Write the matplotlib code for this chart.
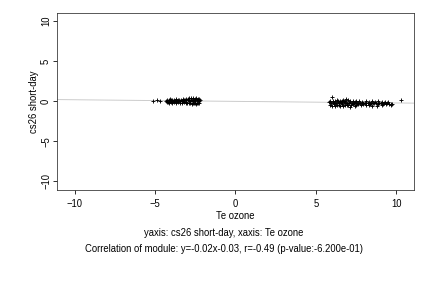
import matplotlib
matplotlib.use("Agg")
import matplotlib.pyplot as plt
import numpy as np

plt.rcParams['font.family'] = ['Liberation Sans', 'DejaVu Sans']

# Cluster 1 (negative Te ozone)
c1_x = [-5.10, -4.85, -4.70, -4.35, -4.28, -4.20, -4.12, -4.05, -3.98, -3.90, -3.83, -3.76, -3.70, -3.62,
        -3.55, -3.48, -3.40, -3.33, -3.26, -3.19, -3.12, -3.05, -2.98, -2.91, -2.84, -2.77, -2.70, -2.63,
        -2.56, -2.49, -2.42, -2.35, -2.28, -2.22,
        -4.25, -4.15, -4.02, -3.92, -3.80, -3.68, -3.58, -3.45, -3.35, -3.22, -3.10, -3.00, -2.88, -2.80,
        -2.72, -2.66, -2.58, -2.52, -2.45, -2.38, -2.30, -2.25,
        -4.10, -3.95, -3.72, -3.50, -3.28, -3.06, -2.94, -2.86, -2.74, -2.62, -2.54, -2.46, -2.34, -2.26]
c1_y = [0.05, 0.08, 0.06, 0.02, 0.10, -0.05, 0.12, 0.00, 0.08, -0.03, 0.10, 0.05, 0.15, 0.02,
        0.10, -0.02, 0.12, 0.05, 0.00, 0.15, 0.08, -0.05, 0.10, 0.18, 0.02, 0.12, 0.20, 0.05,
        0.15, -0.02, 0.10, 0.18, 0.05, 0.12,
        -0.12, -0.18, -0.10, -0.20, -0.15, -0.22, -0.12, -0.18, -0.25, -0.15, -0.20, -0.28, -0.18, -0.25,
        -0.30, -0.20, -0.28, -0.22, -0.30, -0.18, -0.25, -0.20,
        0.22, 0.18, 0.25, 0.20, 0.28, 0.25, 0.32, 0.38, 0.42, 0.35, 0.30, 0.38, 0.28, 0.32]

# Cluster 2 (positive Te ozone)
c2_x = [5.85, 5.95, 6.05, 6.15, 6.25, 6.35, 6.45, 6.55, 6.65, 6.75, 6.85, 6.95, 7.05, 7.15, 7.25, 7.35,
        7.45, 7.55, 7.65, 7.75, 7.85, 7.95, 8.05, 8.15, 8.25, 8.35, 8.45, 8.55, 8.65, 8.75, 8.85, 8.95,
        9.05, 9.15, 9.25, 9.35, 9.45, 9.55, 9.65, 9.75,
        5.90, 6.02, 6.12, 6.22, 6.32, 6.42, 6.52, 6.62, 6.72, 6.82, 6.92, 7.02, 7.12, 7.22, 7.32, 7.42,
        7.52, 7.62, 7.80, 7.95, 8.10, 8.30, 8.50, 8.80, 9.10, 9.70,
        5.88, 5.98, 6.08, 6.18, 6.30, 6.40, 6.50, 6.60, 6.70, 6.80, 6.90, 7.00, 7.10, 7.30, 7.50, 7.70,
        7.90, 8.10, 8.30, 8.50, 8.70, 8.90, 9.10, 9.30, 9.50, 10.30]
c2_y = [-0.15, -0.20, -0.10, -0.25, -0.18, -0.12, -0.22, -0.15, -0.20, -0.10, -0.25, -0.18, -0.22, -0.15,
        -0.28, -0.20, -0.15, -0.25, -0.18, -0.22, -0.20, -0.28, -0.18, -0.25, -0.22, -0.30, -0.20, -0.25,
        -0.28, -0.22, -0.30, -0.25, -0.28, -0.32, -0.25, -0.30, -0.28, -0.35, -0.30, -0.32,
        -0.45, -0.55, -0.40, -0.60, -0.50, -0.45, -0.55, -0.42, -0.60, -0.48, -0.52, -0.45, -0.75, -0.50,
        -0.42, -0.55, -0.45, -0.40, -0.50, -0.42, -0.48, -0.45, -0.55, -0.62, -0.50, -0.50,
        0.02, 0.55, 0.05, 0.00, 0.08, -0.02, 0.05, 0.02, 0.10, 0.00, 0.30, 0.20, 0.05, 0.00,
        -0.02, 0.05, -0.05, 0.00, -0.05, 0.02, -0.08, 0.00, -0.05, -0.10, -0.08, 0.15]

slope = -0.02
intercept = -0.03
ticks = [-10, -5, 0, 5, 10]

fig = plt.figure(figsize=(6, 4), dpi=72)
ax = fig.add_axes([0.132, 0.340, 0.826, 0.615])

xlim = (-11.1, 11.1)
ylim = (-11.1, 11.0)
lx = np.array(xlim)
ax.plot(lx, slope * lx + intercept, color='#c8c8c8', lw=0.9, zorder=1)

xs = c1_x + c2_x
ys = c1_y + c2_y
ax.scatter(xs, ys, marker='+', s=18, c='black', linewidths=0.9, zorder=2)

fs = 9.5
ax.set_xlim(*xlim)
ax.set_ylim(*ylim)
ax.set_xticks(ticks)
ax.set_yticks(ticks)
ax.tick_params(axis='x', labelsize=fs, length=4, width=0.8, direction='out', pad=5)
ax.tick_params(axis='y', labelsize=fs, length=4, width=0.8, direction='out', pad=2)
for lab in ax.get_yticklabels():
    lab.set_rotation(90)
    lab.set_va('center')
for s in ax.spines.values():
    s.set_linewidth(0.8)
    s.set_color('#333333')

ax.set_xlabel('Te ozone', fontsize=fs, labelpad=2)
ax.set_ylabel('cs26 short-day', fontsize=fs, labelpad=2)

fig.text(0.518, 0.191, 'yaxis: cs26 short-day, xaxis: Te ozone', ha='center', va='center', fontsize=fs)
fig.text(0.518, 0.135, 'Correlation of module: y=-0.02x-0.03, r=-0.49 (p-value:-6.200e-01)',
         ha='center', va='center', fontsize=fs)

fig.savefig('out.png', dpi=72)
